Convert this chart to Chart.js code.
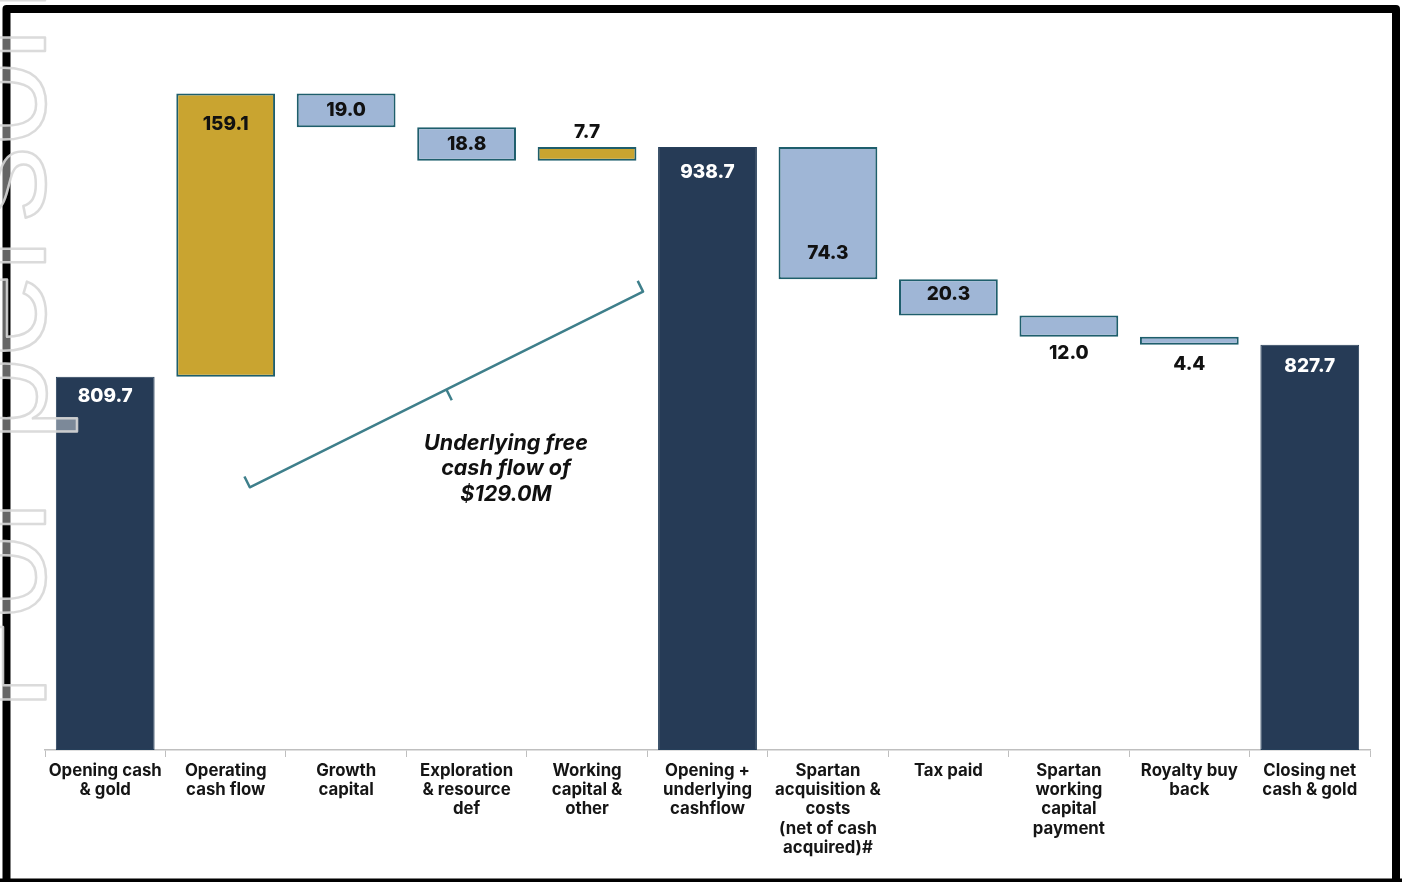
<!DOCTYPE html>
<html>
<head>
<meta charset="utf-8">
<script src="https://cdn.jsdelivr.net/npm/chart.js@4.4.1/dist/chart.umd.min.js"></script>
<style>
  html, body { margin: 0; padding: 0; background: #ffffff; }
  #wrap { width: 1402px; height: 882px; position: relative; }
</style>
</head>
<body>
<div id="wrap"><canvas id="c" width="1402" height="882"></canvas></div>
<script>
// ---- Data ----
const categories = [
  ["Opening cash", "& gold"],
  ["Operating", "cash flow"],
  ["Growth", "capital"],
  ["Exploration", "& resource", "def"],
  ["Working", "capital &", "other"],
  ["Opening +", "underlying", "cashflow"],
  ["Spartan", "acquisition &", "costs", "(net of cash", "acquired)#"],
  ["Tax paid"],
  ["Spartan", "working", "capital", "payment"],
  ["Royalty buy", "back"],
  ["Closing net", "cash & gold"]
];
const changes = [809.7, 159.1, -19.0, -18.8, 7.7, 938.7, -74.3, -20.3, -12.0, -4.4, 827.7];
const isTotal = [true, false, false, false, false, true, false, false, false, false, true];
const annotationText = ["Underlying free", "cash flow of", "$129.0M"];

// ---- Build waterfall ranges from the data ----
const Y_MIN = 600, Y_MAX = 1000;
const ranges = [];
let running = 0;
changes.forEach((v, i) => {
  if (isTotal[i]) { running = v; ranges.push([Y_MIN, v]); }
  else { const s = running; running = +(running + v).toFixed(1); ranges.push([s, running]); }
});

const NAVY = '#263B56', GOLD = '#C9A430', LIGHT = '#9FB6D6', TEAL = '#1E5E6C';
const bg = changes.map((v, i) => isTotal[i] ? NAVY : (v >= 0 ? GOLD : LIGHT));
const bc = changes.map((v, i) => isTotal[i] ? '#263F5A' : TEAL);
const bw = changes.map((v, i) => isTotal[i] ? 1 : 2);

// label placement (style only)
const place = [['top', 20], ['top', 31], ['mid', 0], ['mid', 0], ['above', 15], ['top', 25],
               ['bottom', 26], ['mid', -3], ['below', 16], ['below', 20], ['top', 22]];

const FONT = "Inter, 'Open Sans', 'DejaVu Sans', sans-serif";

const valueLabels = {
  id: 'valueLabels',
  afterDatasetsDraw(chart) {
    const ctx = chart.ctx;
    const meta = chart.getDatasetMeta(0);
    ctx.save();
    ctx.font = "800 19px " + FONT;
    ctx.textAlign = 'center';
    ctx.textBaseline = 'middle';
    meta.data.forEach((el, i) => {
      const top = Math.min(el.y, el.base), bot = Math.max(el.y, el.base);
      const [mode, off] = place[i];
      let y;
      if (mode === 'top') y = top + off;
      else if (mode === 'mid') y = (top + bot) / 2 + off;
      else if (mode === 'above') y = top - off;
      else if (mode === 'bottom') y = bot - off;
      else y = bot + off;
      ctx.fillStyle = isTotal[i] ? '#FFFFFF' : '#111111';
      ctx.fillText(Math.abs(changes[i]).toFixed(1), el.x, y);
    });
    ctx.restore();
  }
};

const bracket = {
  id: 'bracket',
  afterDatasetsDraw(chart) {
    const xs = chart.scales.x, ys = chart.scales.y, ctx = chart.ctx;
    const x1 = xs.getPixelForValue(1.2), y1 = ys.getPixelForValue(747.6);
    const x2 = xs.getPixelForValue(4.465), y2 = ys.getPixelForValue(857.5);
    const dx = x2 - x1, dy = y2 - y1, L = Math.hypot(dx, dy);
    const ux = dx / L, uy = dy / L;
    const h = 12;
    const upx = -Math.abs(uy), upy = -Math.abs(ux);
    ctx.save();
    ctx.strokeStyle = '#3E7F8B';
    ctx.lineWidth = 2.5;
    ctx.lineJoin = 'round';
    ctx.beginPath();
    ctx.moveTo(x1 + upx * h, y1 + upy * h);
    ctx.lineTo(x1, y1);
    ctx.lineTo(x2, y2);
    ctx.lineTo(x2 + upx * h, y2 + upy * h);
    const mx = (x1 + x2) / 2, my = (y1 + y2) / 2;
    ctx.moveTo(mx, my);
    ctx.lineTo(mx - upx * h, my - upy * h);
    ctx.stroke();

    // annotation text
    ctx.fillStyle = '#111111';
    ctx.font = "italic 700 21.5px " + FONT;
    ctx.textAlign = 'center';
    ctx.textBaseline = 'middle';
    const tx = xs.getPixelForValue(3.327);
    const ty = ys.getPixelForValue(772.4);
    annotationText.forEach((t, k) => ctx.fillText(t, tx, ty + k * 25.5));
    ctx.restore();
  }
};

const frameAndMark = {
  id: 'frameAndMark',
  beforeDraw(chart) {
    const ctx = chart.ctx;
    ctx.save();
    ctx.fillStyle = '#ffffff';
    ctx.fillRect(0, 0, chart.width, chart.height);
    ctx.restore();
  },
  afterDraw(chart) {
    const ctx = chart.ctx;
    ctx.save();
    // frame
    ctx.strokeStyle = '#000000';
    ctx.lineWidth = 8;
    ctx.lineJoin = 'round';
    ctx.beginPath();
    ctx.moveTo(6.5, 890);
    ctx.lineTo(6.5, 9);
    ctx.lineTo(1396, 9);
    ctx.lineTo(1396, 890);
    ctx.stroke();
    ctx.lineWidth = 5;
    ctx.beginPath();
    ctx.moveTo(0, 881);
    ctx.lineTo(1402, 881);
    ctx.stroke();
    // watermark
    ctx.translate(45, 712);
    ctx.rotate(-Math.PI / 2);
    ctx.font = "400 152px 'Liberation Sans', Arial, sans-serif";
    ctx.textAlign = 'left';
    ctx.textBaseline = 'alphabetic';
    ctx.fillStyle = 'rgba(255,255,255,0.4)';
    ctx.fillText('For personal use only', 0, 0);
    ctx.strokeStyle = 'rgba(215,215,215,0.9)';
    ctx.lineWidth = 2.5;
    ctx.strokeText('For personal use only', 0, 0);
    ctx.restore();
  }
};

new Chart(document.getElementById('c'), {
  type: 'bar',
  data: {
    labels: categories,
    datasets: [{
      data: ranges,
      backgroundColor: bg,
      borderColor: bc,
      borderWidth: bw,
      borderSkipped: false,
      barPercentage: 0.82,
      categoryPercentage: 1.0
    }]
  },
  options: {
    responsive: false,
    animation: false,
    devicePixelRatio: 1,
    layout: { padding: { left: 45, right: 32, top: 38, bottom: 0 } },
    plugins: { legend: { display: false }, tooltip: { enabled: false }, title: { display: false } },
    scales: {
      x: {
        offset: true,
        grid: { display: true, drawOnChartArea: false, drawTicks: true, tickLength: 7, color: '#BFBFBF', offset: true },
        border: { display: true, color: '#BFBFBF', width: 1.5 },
        ticks: {
          autoSkip: false, maxRotation: 0, minRotation: 0, padding: 4,
          color: '#151515',
          font: { family: FONT, size: 16.8, weight: '700', lineHeight: 1.15 }
        },
        afterFit(scale) { scale.height = 132; }
      },
      y: { display: false, min: Y_MIN, max: Y_MAX }
    }
  },
  plugins: [frameAndMark, valueLabels, bracket]
});
</script>
</body>
</html>
